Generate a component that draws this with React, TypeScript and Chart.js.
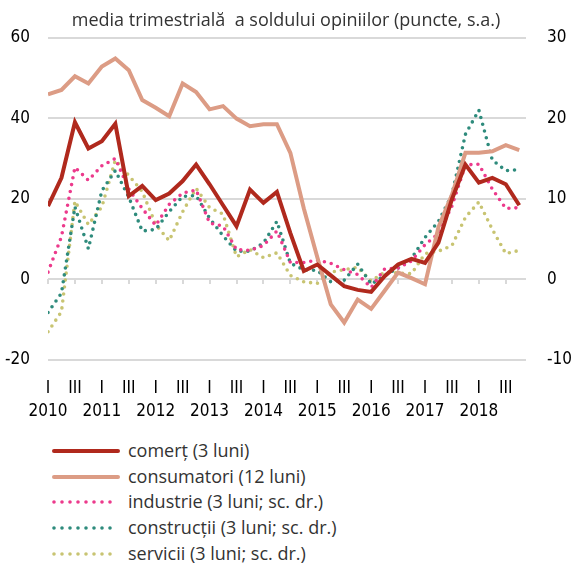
import React, { useEffect, useRef } from 'react';
import { Chart, registerables } from 'chart.js';

Chart.register(...registerables);

const titleText = 'media trimestrială  a soldului opiniilor (puncte, s.a.)';
const years = ['2010', '2011', '2012', '2013', '2014', '2015', '2016', '2017', '2018'];
const quarterLabels = ['I', 'III'];

// quarterly values, 2010 Q1 .. 2018 Q4
const comert = [18.2, 25.2, 39.0, 32.5, 34.3, 38.6, 20.7, 23.2, 19.7, 21.3, 24.4, 28.5, 23.6, 18.4, 13.2, 22.3, 19.0, 21.7, 11.5, 2.1, 3.7, 1.0, -1.7, -2.6, -3.1, 0.8, 3.7, 5.1, 4.1, 9.1, 19.9, 28.5, 24.0, 25.2, 23.6, 18.4];
const consumatori = [45.9, 47.0, 50.4, 48.6, 52.8, 54.8, 51.9, 44.5, 42.6, 40.5, 48.6, 46.5, 42.2, 43.0, 39.9, 38.0, 38.5, 38.5, 31.4, 17.6, 5.5, -6.2, -10.7, -5.0, -7.3, -2.8, 1.7, 0.3, -1.2, 13.0, 21.0, 31.4, 31.4, 31.8, 33.3, 32.1];
const industrie = [0.9, 5.3, 13.9, 12.3, 14.1, 15.0, 11.2, 8.8, 6.7, 9.3, 10.7, 11.1, 7.0, 6.6, 3.7, 3.6, 4.2, 6.0, 2.1, 2.1, 2.4, 2.0, 1.2, 0.6, -1.0, 1.3, 1.4, 2.3, 4.3, 5.7, 9.1, 14.2, 14.3, 11.2, 8.8, 8.9];
const constructii = [-4.1, -1.7, 9.0, 3.8, 11.0, 13.5, 10.2, 6.0, 6.2, 8.4, 10.3, 10.4, 7.6, 5.4, 3.5, 3.5, 4.5, 7.2, 2.0, 1.2, 1.1, -0.3, -0.1, 1.9, -0.6, 0.5, 1.4, 2.6, 5.2, 7.2, 10.5, 18.0, 21.0, 14.8, 13.5, 13.6];
const servicii = [-6.5, -4.0, 9.7, 6.8, 9.0, 14.8, 12.9, 10.9, 6.8, 4.8, 8.4, 11.3, 8.9, 8.1, 2.8, 3.7, 2.7, 3.3, 0.5, -0.3, -0.5, 0.9, 1.2, 1.5, -0.2, 0.9, 0.8, 0.7, 3.2, 3.5, 4.2, 7.7, 9.6, 6.2, 3.2, 3.6];

const seriesNames = ['comerț (3 luni)', 'consumatori (12 luni)', 'industrie (3 luni; sc. dr.)', 'construcții (3 luni; sc. dr.)', 'servicii (3 luni; sc. dr.)'];
const seriesColors = ['#B0291D', '#DC9C85', '#EC3A8C', '#2E8B7C', '#C8C472'];

const tickFont = "'Liberation Sans Narrow', 'DejaVu Sans Condensed', sans-serif";
const textFont = "'Open Sans', 'Noto Sans', sans-serif";

const toPoints = (arr: number[]) => arr.map((v, i) => ({ x: i, y: v }));
const halfYearTicks = Array.from({ length: 18 }, (_, k) => k * 2);

export default function App() {
  const ref = useRef<HTMLCanvasElement | null>(null);

  useEffect(() => {
    if (!ref.current) return;
    const solid = (i: number, data: number[], axis: string) => ({
      label: seriesNames[i],
      data: toPoints(data),
      borderColor: seriesColors[i],
      backgroundColor: seriesColors[i],
      borderWidth: 4,
      pointRadius: 0,
      yAxisID: axis,
      xAxisID: 'x',
      tension: 0,
    });
    const dotted = (i: number, data: number[]) => ({
      ...solid(i, data, 'y2'),
      borderWidth: 3.6,
      borderDash: [0, 7],
      borderCapStyle: 'round' as const,
    });
    const chart = new Chart(ref.current, {
      type: 'line',
      data: {
        datasets: [
          solid(0, comert, 'y'),
          solid(1, consumatori, 'y'),
          dotted(2, industrie),
          dotted(3, constructii),
          dotted(4, servicii),
        ],
      },
      options: {
        responsive: false,
        animation: false,
        layout: { padding: 0 },
        plugins: {
          legend: { display: false },
          tooltip: { enabled: false },
          title: {
            display: true,
            text: titleText,
            color: '#333',
            font: { family: textFont, size: 18, weight: 'normal' },
            padding: { top: 10, bottom: 6 },
          },
        },
        scales: {
          x: {
            type: 'linear',
            min: 0,
            max: 35.5,
            position: 'bottom',
            grid: { display: false, drawTicks: false },
            border: { display: false },
            afterBuildTicks: (s: any) => { s.ticks = halfYearTicks.map((v) => ({ value: v })); },
            afterFit: (s: any) => { s.height = 70; },
            ticks: {
              autoSkip: false,
              maxRotation: 0,
              padding: 18,
              color: '#000',
              font: { family: tickFont, size: 17, lineHeight: 1.3 },
              callback: (v: any) => {
                const n = Number(v);
                return n % 4 === 0 ? [quarterLabels[0], years[n / 4]] : [quarterLabels[1], ''];
              },
            },
          },
          x2: {
            type: 'linear',
            min: 0,
            max: 35.5,
            position: { y: 0 } as any,
            afterBuildTicks: (s: any) => { s.ticks = halfYearTicks.map((v) => ({ value: v })); },
            ticks: { display: false },
            grid: { drawOnChartArea: false, drawTicks: true, tickLength: 5, color: '#d9d9d9', lineWidth: 2 },
            border: { display: false },
          },
          y: {
            position: 'left',
            min: -20,
            max: 60,
            afterFit: (s: any) => { s.width = 48; },
            ticks: { stepSize: 20, padding: 18, color: '#000', font: { family: tickFont, size: 17 } },
            grid: { color: '#d9d9d9', lineWidth: 2, drawTicks: false },
            border: { display: false },
          },
          y2: {
            position: 'right',
            min: -10,
            max: 30,
            afterFit: (s: any) => { s.width = 46; },
            ticks: { stepSize: 10, padding: 21, color: '#000', font: { family: tickFont, size: 17 } },
            grid: { drawOnChartArea: false, drawTicks: false },
            border: { display: false },
          },
        },
      },
    } as any);
    return () => chart.destroy();
  }, []);

  return (
    <div style={{ position: 'absolute', left: 0, top: 0, width: 572, height: 563, background: '#fff' }}>
      <canvas ref={ref} width={572} height={430} style={{ display: 'block' }} />
      <div style={{ position: 'absolute', left: 52, top: 438 }}>
        {seriesNames.map((name, i) => (
          <div key={name} style={{ display: 'flex', alignItems: 'center', height: 25.7 }}>
            <svg width={68} height={10} style={{ marginRight: 8 }}>
              {i < 2 ? (
                <line x1={2} y1={5} x2={66} y2={5} stroke={seriesColors[i]} strokeWidth={4} strokeLinecap="round" />
              ) : (
                <line x1={2} y1={5} x2={66} y2={5} stroke={seriesColors[i]} strokeWidth={3.6} strokeLinecap="round" strokeDasharray="0 8" />
              )}
            </svg>
            <span style={{ fontFamily: textFont, fontSize: 18, color: '#333', lineHeight: '25.7px', whiteSpace: 'pre' }}>{name}</span>
          </div>
        ))}
      </div>
    </div>
  );
}
